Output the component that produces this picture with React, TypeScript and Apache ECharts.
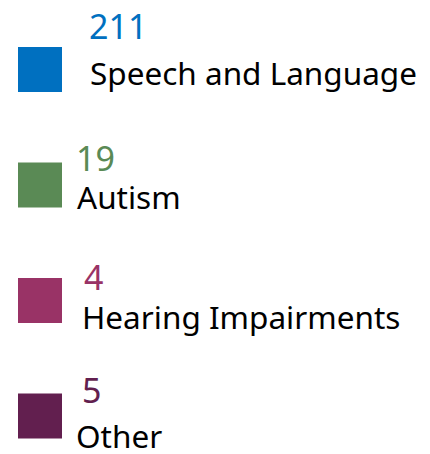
import React, { useEffect, useRef } from "react";
import * as echarts from "echarts";

const categories = ["Speech and Language", "Autism", "Hearing Impairments", "Other"];
const counts = [211, 19, 4, 5];
const colors = ["#0070C0", "#5A8A55", "#993366", "#621F4F"];

// label offsets relative to the square's right edge / vertical centre
const numberOffsets: [number, number][] = [[27, -43.7], [14, -27], [22, -23.2], [20, -26.2]];
const nameOffsets: [number, number][] = [[28, 2.5], [15, 11], [20, 16], [14, 19.5]];

const FONT = "'Noto Sans', sans-serif";

export default function App() {
  const ref = useRef<HTMLDivElement>(null);
  useEffect(() => {
    if (!ref.current) return;
    const chart = echarts.init(ref.current, null, { renderer: "svg" });
    chart.setOption({
      animation: false,
      backgroundColor: "#ffffff",
      grid: { left: 18, width: 44, top: 69.5, bottom: 38 },
      xAxis: { type: "category", data: ["item"], show: false, boundaryGap: true },
      yAxis: { type: "category", data: categories, inverse: true, boundaryGap: false, show: false },
      series: [
        {
          type: "scatter",
          symbol: "rect",
          symbolSize: [44, 45],
          z: 3,
          data: categories.map((c, i) => ({
            value: ["item", c],
            itemStyle: { color: colors[i], opacity: 1 },
            label: {
              show: true,
              position: "right",
              distance: 0,
              offset: numberOffsets[i],
              formatter: String(counts[i]),
              color: colors[i],
              fontSize: 34,
              lineHeight: 30,
              fontFamily: FONT,
              align: "left",
              verticalAlign: "middle",
            },
          })),
        },
        {
          type: "scatter",
          symbol: "rect",
          symbolSize: [44, 45],
          z: 2,
          itemStyle: { color: "rgba(0,0,0,0)", opacity: 1 },
          data: categories.map((c, i) => ({
            value: ["item", c],
            label: {
              show: true,
              position: "right",
              distance: 0,
              offset: nameOffsets[i],
              formatter: c,
              color: "#000000",
              fontSize: 31.5,
              lineHeight: 28,
              fontFamily: FONT,
              align: "left",
              verticalAlign: "middle",
            },
          })),
        },
      ],
    });
    return () => chart.dispose();
  }, []);
  return (
    <div
      ref={ref}
      style={{ position: "fixed", left: 0, top: 0, width: 430, height: 454 }}
    />
  );
}
